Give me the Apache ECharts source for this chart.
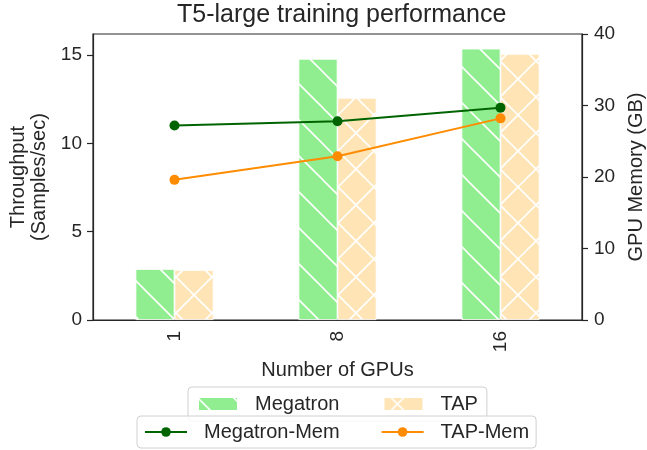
<!DOCTYPE html>
<html>
<head>
<meta charset="utf-8">
<script src="https://cdn.jsdelivr.net/npm/echarts@6/dist/echarts.min.js"></script>
<style>
html,body{margin:0;padding:0;background:#fff;}
#chart{width:647px;height:450px;}
</style>
</head>
<body>
<div id="chart"></div>
<script>
// ---- data ----
const categories = ['1', '8', '16'];
const megatronThroughput = [2.89, 14.79, 15.37];
const tapThroughput = [2.83, 12.58, 15.07];
const megatronMem = [27.2, 27.8, 29.7];
const tapMem = [19.6, 22.9, 28.2];
const leftTicks = {min: 0, max: 16.2, interval: 5};
const rightTicks = {min: 0, max: 40, interval: 10};

// ---- hatch patterns ----
function hatch(bg, back, fwd, c, d) {
  const T = 36;
  const cv = document.createElement('canvas');
  cv.width = T; cv.height = T;
  const ctx = cv.getContext('2d');
  ctx.fillStyle = bg;
  ctx.fillRect(0, 0, T, T);
  ctx.strokeStyle = '#ffffff';
  ctx.lineWidth = 1.6;
  for (let k = -3; k <= 3; k++) {
    if (back) {
      ctx.beginPath();
      ctx.moveTo(-T, -T + c + k * T);
      ctx.lineTo(2 * T, 2 * T + c + k * T);
      ctx.stroke();
    }
    if (fwd) {
      ctx.beginPath();
      ctx.moveTo(-T, T + d + k * T);
      ctx.lineTo(2 * T, -2 * T + d + k * T);
      ctx.stroke();
    }
  }
  return {image: cv, repeat: 'repeat'};
}
const greenFill = hatch('#90EE90', true, false, 1, 0);
const tapFill = hatch('#FFE4B5', true, true, 29, 21);

const txt = '#262626';
const font = 'Liberation Sans, Arial, sans-serif';

const chart = echarts.init(document.getElementById('chart'), null, {renderer: 'canvas'});
chart.setOption({
  animation: false,
  backgroundColor: '#ffffff',
  textStyle: {fontFamily: font, color: txt},
  title: {
    text: 'T5-large training performance',
    left: 177, top: 3,
    padding: 0,
    textStyle: {fontFamily: font, fontSize: 25, fontWeight: 'normal', color: txt}
  },
  grid: {
    left: 93, right: 65, top: 34, bottom: 130,
    containLabel: false,
    outerBoundsMode: 'none',
    show: true, borderColor: txt, borderWidth: 1.2, backgroundColor: 'transparent'
  },
  legend: [
    {
      data: ['Megatron', 'TAP'],
      left: 188, top: 387,
      orient: 'horizontal',
      icon: 'rect',
      itemWidth: 40, itemHeight: 14, itemGap: 43,
      padding: [7, 9, 7, 9],
      borderColor: '#d0d0d0', borderWidth: 1, borderRadius: 4,
      backgroundColor: 'rgba(255,255,255,0.8)',
      selectedMode: false,
      textStyle: {fontFamily: font, fontSize: 20, color: txt, padding: [0, 0, 0, 12]},
      z: 5
    },
    {
      data: ['Megatron-Mem', 'TAP-Mem'],
      left: 137, top: 416,
      orient: 'horizontal',
      itemWidth: 42, itemHeight: 12, itemGap: 41,
      padding: [6, 7, 6, 7],
      borderColor: '#d0d0d0', borderWidth: 1, borderRadius: 4,
      backgroundColor: 'rgba(255,255,255,0.8)',
      selectedMode: false,
      textStyle: {fontFamily: font, fontSize: 20, color: txt, padding: [0, 0, 0, 12]},
      z: 6
    }
  ],
  xAxis: {
    type: 'category',
    data: categories,
    boundaryGap: true,
    name: 'Number of GPUs',
    nameLocation: 'middle',
    nameGap: 37,
    nameTextStyle: {fontFamily: font, fontSize: 20, color: txt},
    axisLine: {show: true, lineStyle: {color: txt, width: 1.2}},
    axisTick: {show: false},
    axisLabel: {rotate: 90, margin: 11, fontFamily: font, fontSize: 19, color: txt},
    splitLine: {show: false}
  },
  yAxis: [
    {
      type: 'value',
      min: leftTicks.min, max: leftTicks.max, interval: leftTicks.interval,
      name: 'Throughput\n(Samples/sec)',
      nameLocation: 'middle',
      nameRotate: 90,
      nameGap: 35,
      nameTextStyle: {fontFamily: font, fontSize: 20, color: txt, lineHeight: 21},
      axisLine: {show: true, lineStyle: {color: txt, width: 1.2}},
      axisTick: {show: true, inside: false, length: 6, lineStyle: {color: txt, width: 1.2}},
      axisLabel: {
        margin: 11, fontFamily: font, fontSize: 19, color: txt, showMaxLabel: false,
        formatter: v => (v % leftTicks.interval === 0 ? String(v) : '')
      },
      splitLine: {show: false}
    },
    {
      type: 'value',
      position: 'right',
      min: rightTicks.min, max: rightTicks.max, interval: rightTicks.interval,
      name: 'GPU Memory (GB)',
      nameLocation: 'middle',
      nameRotate: 90,
      nameGap: 37,
      nameTextStyle: {fontFamily: font, fontSize: 20, color: txt},
      axisLine: {show: true, lineStyle: {color: txt, width: 1.2}},
      axisTick: {show: true, inside: false, length: 6, lineStyle: {color: txt, width: 1.2}},
      axisLabel: {margin: 12, fontFamily: font, fontSize: 19, color: txt},
      splitLine: {show: false}
    }
  ],
  series: [
    {
      name: 'Megatron',
      type: 'bar',
      data: megatronThroughput,
      yAxisIndex: 0,
      barWidth: 39,
      barGap: '0%',
      itemStyle: {color: greenFill, borderColor: '#ffffff', borderWidth: 0.8},
      z: 2
    },
    {
      name: 'TAP',
      type: 'bar',
      data: tapThroughput,
      yAxisIndex: 0,
      barWidth: 39,
      barGap: '0%',
      itemStyle: {color: tapFill, borderColor: '#ffffff', borderWidth: 0.8},
      z: 2
    },
    {
      name: 'Megatron-Mem',
      type: 'line',
      data: megatronMem,
      yAxisIndex: 1,
      symbol: 'circle',
      symbolSize: 10,
      lineStyle: {color: '#006400', width: 2},
      itemStyle: {color: '#006400'},
      z: 4
    },
    {
      name: 'TAP-Mem',
      type: 'line',
      data: tapMem,
      yAxisIndex: 1,
      symbol: 'circle',
      symbolSize: 10,
      lineStyle: {color: '#FF8C00', width: 2},
      itemStyle: {color: '#FF8C00'},
      z: 4
    }
  ]
});
</script>
</body>
</html>
